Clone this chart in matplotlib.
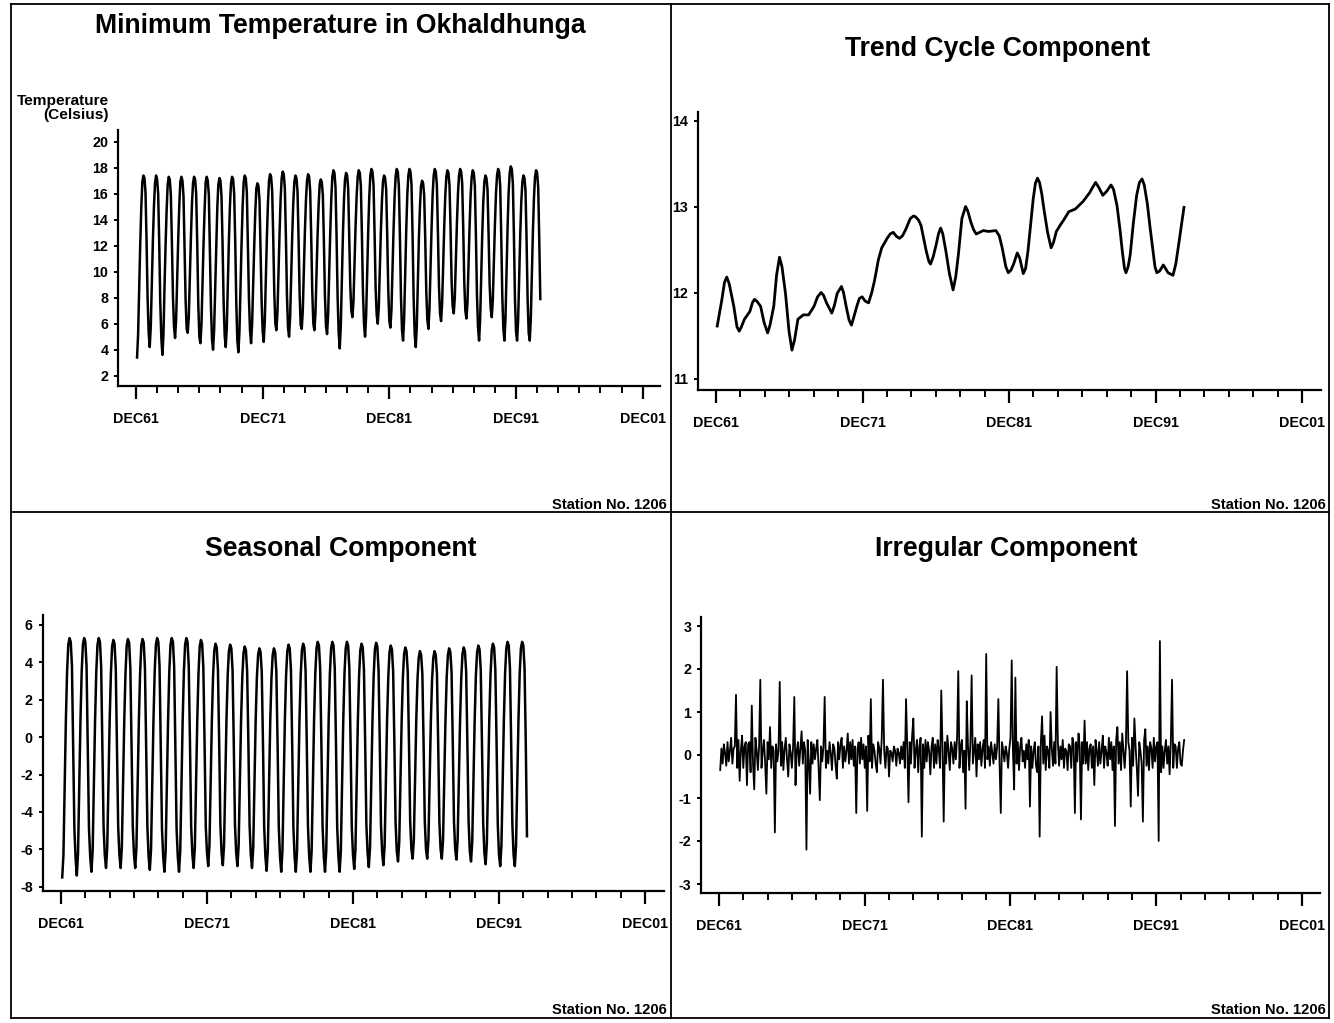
import numpy as np
import matplotlib
matplotlib.use("Agg")
import matplotlib.pyplot as plt
from matplotlib import font_manager
from matplotlib.lines import Line2D

# ---- data ----
start_year = 1962  # first value is Jan 1962, last is Nov 1993

tick_labels = ["DEC61", "DEC71", "DEC81", "DEC91", "DEC01"]

# minimum temperature (Celsius), one row per year, Jan..Dec
temp_rows = [
    [3.4, 5.2, 8.7, 12.1, 14.9, 16.9, 17.4, 17.2, 16.1, 12.4, 7.9, 5.3],
    [4.2, 5.8, 9.1, 12.4, 15.0, 16.8, 17.4, 17.1, 16.0, 12.2, 7.6, 4.9],
    [3.6, 5.1, 8.8, 12.0, 14.7, 16.7, 17.3, 17.1, 15.9, 12.3, 8.1, 5.8],
    [4.9, 6.3, 9.4, 12.5, 15.1, 16.9, 17.3, 17.0, 15.8, 12.0, 7.8, 5.6],
    [5.3, 6.5, 9.6, 12.6, 15.2, 16.8, 17.3, 17.1, 16.0, 12.2, 7.5, 5.0],
    [4.5, 5.9, 9.0, 12.2, 14.8, 16.9, 17.3, 17.0, 15.9, 11.8, 7.3, 4.8],
    [4.0, 5.5, 8.7, 12.1, 14.9, 16.7, 17.2, 17.0, 15.8, 12.1, 7.7, 5.1],
    [4.2, 5.7, 9.2, 12.4, 15.1, 16.8, 17.3, 17.1, 16.0, 12.3, 7.6, 4.7],
    [3.8, 5.4, 8.9, 12.2, 15.0, 16.9, 17.4, 17.2, 16.1, 12.2, 7.9, 5.5],
    [4.5, 6.0, 9.1, 12.0, 14.6, 16.4, 16.8, 16.6, 15.5, 11.7, 7.7, 5.4],
    [4.6, 6.2, 9.5, 12.7, 15.3, 17.0, 17.5, 17.3, 16.2, 12.6, 8.4, 6.0],
    [5.5, 6.9, 10.0, 13.0, 15.6, 17.2, 17.7, 17.5, 16.4, 12.7, 8.2, 5.7],
    [5.0, 6.5, 9.7, 12.8, 15.3, 16.9, 17.4, 17.2, 16.2, 12.5, 8.3, 5.9],
    [5.6, 7.0, 10.1, 13.1, 15.5, 17.0, 17.5, 17.3, 16.2, 12.6, 8.4, 6.0],
    [5.5, 6.8, 9.9, 12.8, 15.1, 16.7, 17.1, 16.9, 15.9, 12.3, 8.1, 5.8],
    [5.2, 6.7, 9.9, 13.0, 15.6, 17.3, 17.8, 17.6, 16.5, 12.7, 8.0, 5.3],
    [4.1, 5.8, 9.4, 12.8, 15.5, 17.1, 17.6, 17.4, 16.4, 12.8, 8.9, 7.0],
    [6.5, 7.7, 10.6, 13.5, 15.8, 17.3, 17.8, 17.6, 16.6, 12.9, 8.4, 6.0],
    [5.0, 6.6, 10.0, 13.2, 15.8, 17.4, 17.9, 17.7, 16.7, 13.0, 8.7, 6.7],
    [6.0, 7.3, 10.3, 13.2, 15.5, 17.0, 17.4, 17.2, 16.3, 12.7, 8.5, 6.2],
    [5.7, 7.1, 10.3, 13.3, 15.8, 17.4, 17.9, 17.7, 16.6, 12.8, 8.1, 5.5],
    [4.7, 6.4, 9.9, 13.2, 15.9, 17.4, 17.9, 17.7, 16.7, 12.8, 8.0, 5.2],
    [4.2, 5.8, 9.3, 12.6, 15.0, 16.6, 17.0, 16.8, 15.9, 12.5, 8.4, 6.3],
    [5.6, 7.1, 10.4, 13.4, 15.9, 17.4, 17.9, 17.7, 16.7, 13.1, 8.9, 6.8],
    [6.2, 7.6, 10.6, 13.5, 15.9, 17.3, 17.8, 17.6, 16.6, 13.2, 9.2, 7.3],
    [6.8, 8.0, 10.9, 13.7, 16.0, 17.4, 17.9, 17.7, 16.8, 13.3, 9.1, 7.0],
    [6.4, 7.6, 10.6, 13.5, 15.9, 17.3, 17.8, 17.6, 16.6, 12.8, 8.2, 5.7],
    [4.7, 6.3, 9.7, 12.9, 15.4, 16.9, 17.4, 17.2, 16.3, 12.9, 9.0, 7.2],
    [6.5, 7.8, 10.8, 13.6, 16.0, 17.4, 17.9, 17.7, 16.6, 12.7, 8.1, 5.6],
    [4.7, 6.4, 10.0, 13.4, 16.1, 17.6, 18.1, 17.9, 16.8, 12.8, 7.9, 5.4],
    [4.7, 6.3, 9.7, 12.9, 15.4, 16.9, 17.4, 17.2, 16.2, 12.4, 7.8, 5.3],
    [4.7, 6.4, 9.9, 13.1, 15.7, 17.3, 17.8, 17.6, 16.5, 12.5, 7.9],
]

# trend-cycle component: (decimal year, value) points
trend_year = [
    1962.00, 1962.30, 1962.50, 1962.65, 1962.82, 1963.13, 1963.35, 1963.50,
    1963.65, 1963.86, 1964.23, 1964.40, 1964.54, 1964.70, 1964.96, 1965.20,
    1965.44, 1965.60, 1965.86, 1966.05, 1966.25, 1966.42, 1966.66, 1966.90,
    1967.10, 1967.28, 1967.51, 1967.88, 1968.24, 1968.61, 1968.85, 1969.09,
    1969.25, 1969.46, 1969.82, 1970.00, 1970.19, 1970.48, 1970.62, 1970.80,
    1971.00, 1971.16, 1971.30, 1971.53, 1971.70, 1971.89, 1972.10, 1972.33,
    1972.55, 1972.74, 1973.00, 1973.23, 1973.60, 1973.80, 1974.01, 1974.25,
    1974.45, 1974.65, 1974.86, 1975.18, 1975.40, 1975.54, 1975.75, 1975.91,
    1976.10, 1976.27, 1976.45, 1976.56, 1976.75, 1976.95, 1977.10, 1977.25,
    1977.40, 1977.61, 1977.85, 1978.10, 1978.28, 1978.46, 1978.70, 1978.95,
    1979.10, 1979.31, 1979.50, 1979.68, 1980.16, 1980.53, 1981.02, 1981.25,
    1981.45, 1981.70, 1981.87, 1982.05, 1982.23, 1982.48, 1982.65, 1982.89,
    1983.05, 1983.21, 1983.40, 1983.57, 1983.72, 1983.86, 1984.00, 1984.15,
    1984.30, 1984.55, 1984.79, 1984.95, 1985.15, 1985.40, 1985.64, 1986.00,
    1986.44, 1986.98, 1987.42, 1987.65, 1987.83, 1988.05, 1988.32, 1988.60,
    1988.88, 1989.05, 1989.29, 1989.50, 1989.65, 1989.80, 1989.90, 1990.05,
    1990.19, 1990.40, 1990.63, 1990.82, 1991.00, 1991.15, 1991.36, 1991.55,
    1991.72, 1991.88, 1992.01, 1992.20, 1992.45, 1992.60, 1992.77, 1993.11,
    1993.30, 1993.50, 1993.70, 1993.86,
]
trend_value = [
    11.61, 11.90, 12.12, 12.18, 12.10, 11.84, 11.60, 11.55,
    11.60, 11.69, 11.78, 11.88, 11.92, 11.90, 11.84, 11.65,
    11.53, 11.62, 11.84, 12.20, 12.41, 12.30, 11.99, 11.55,
    11.33, 11.45, 11.69, 11.74, 11.74, 11.84, 11.95, 12.00,
    11.97, 11.88, 11.76, 11.85, 11.99, 12.07, 12.00, 11.84,
    11.68, 11.62, 11.70, 11.84, 11.93, 11.95, 11.90, 11.88,
    12.00, 12.14, 12.38, 12.52, 12.63, 12.68, 12.70, 12.65,
    12.63, 12.66, 12.73, 12.86, 12.89, 12.88, 12.84, 12.78,
    12.62, 12.48, 12.36, 12.33, 12.42, 12.56, 12.68, 12.75,
    12.68, 12.48, 12.22, 12.03, 12.18, 12.44, 12.86, 13.00,
    12.95, 12.82, 12.73, 12.68, 12.72, 12.71, 12.72, 12.66,
    12.52, 12.30, 12.23, 12.26, 12.33, 12.46, 12.40, 12.22,
    12.28, 12.48, 12.80, 13.09, 13.27, 13.33, 13.28, 13.15,
    12.97, 12.70, 12.52, 12.58, 12.71, 12.78, 12.84, 12.94,
    12.97, 13.06, 13.16, 13.23, 13.28, 13.22, 13.13, 13.18,
    13.25, 13.20, 13.01, 12.72, 12.48, 12.28, 12.23, 12.30,
    12.44, 12.80, 13.13, 13.28, 13.32, 13.25, 13.03, 12.75,
    12.52, 12.30, 12.23, 12.25, 12.32, 12.28, 12.23, 12.20,
    12.33, 12.56, 12.80, 12.99,
]

# seasonal component, one row per year, Jan..Dec
seasonal_rows = [
    [-7.5, -6.3, -2.7, 0.9, 3.5, 4.95, 5.3, 5.1, 3.8, -0.4, -4.9, -6.5],
    [-7.4, -6.2, -2.7, 0.9, 3.5, 4.95, 5.3, 5.1, 3.8, -0.4, -4.9, -6.4],
    [-7.2, -6.1, -2.6, 0.9, 3.5, 4.95, 5.3, 5.1, 3.8, -0.4, -4.8, -6.3],
    [-7.0, -5.9, -2.6, 0.9, 3.4, 4.85, 5.2, 5.0, 3.7, -0.4, -4.8, -6.3],
    [-7.0, -5.9, -2.6, 0.9, 3.4, 4.9, 5.25, 5.05, 3.7, -0.4, -4.8, -6.3],
    [-7.0, -5.9, -2.6, 0.9, 3.4, 4.9, 5.25, 5.05, 3.7, -0.4, -4.8, -6.4],
    [-7.1, -6.0, -2.6, 0.9, 3.5, 4.95, 5.3, 5.1, 3.8, -0.4, -4.9, -6.4],
    [-7.2, -6.1, -2.6, 0.9, 3.5, 4.95, 5.3, 5.1, 3.8, -0.4, -4.9, -6.4],
    [-7.2, -6.1, -2.6, 0.9, 3.5, 4.95, 5.3, 5.1, 3.8, -0.3, -4.8, -6.3],
    [-7.0, -5.9, -2.5, 0.9, 3.4, 4.85, 5.2, 5.0, 3.7, -0.3, -4.8, -6.2],
    [-6.9, -5.8, -2.5, 0.9, 3.3, 4.65, 5.0, 4.8, 3.6, -0.3, -4.7, -6.2],
    [-6.85, -5.8, -2.5, 0.9, 3.3, 4.6, 4.95, 4.75, 3.6, -0.3, -4.7, -6.2],
    [-6.9, -5.8, -2.5, 0.9, 3.2, 4.5, 4.85, 4.65, 3.5, -0.3, -4.7, -6.3],
    [-7.0, -5.9, -2.5, 0.9, 3.2, 4.4, 4.75, 4.55, 3.5, -0.3, -4.8, -6.4],
    [-7.15, -6.0, -2.5, 0.9, 3.2, 4.4, 4.75, 4.55, 3.5, -0.3, -4.8, -6.4],
    [-7.2, -6.1, -2.6, 0.9, 3.3, 4.6, 4.95, 4.75, 3.6, -0.3, -4.8, -6.4],
    [-7.2, -6.1, -2.6, 0.9, 3.3, 4.65, 5.0, 4.8, 3.6, -0.3, -4.8, -6.4],
    [-7.2, -6.1, -2.6, 0.9, 3.4, 4.75, 5.1, 4.9, 3.7, -0.3, -4.8, -6.4],
    [-7.2, -6.1, -2.6, 0.9, 3.4, 4.75, 5.1, 4.9, 3.7, -0.3, -4.8, -6.4],
    [-7.2, -6.1, -2.6, 0.9, 3.4, 4.75, 5.1, 4.9, 3.7, -0.3, -4.8, -6.3],
    [-7.05, -6.0, -2.5, 0.9, 3.3, 4.65, 5.0, 4.8, 3.6, -0.3, -4.7, -6.2],
    [-6.95, -5.9, -2.5, 0.9, 3.3, 4.7, 5.05, 4.85, 3.6, -0.3, -4.7, -6.2],
    [-6.85, -5.8, -2.4, 0.9, 3.2, 4.55, 4.9, 4.7, 3.5, -0.3, -4.6, -6.1],
    [-6.65, -5.6, -2.4, 0.9, 3.2, 4.45, 4.8, 4.6, 3.5, -0.3, -4.5, -6.0],
    [-6.5, -5.5, -2.3, 0.9, 3.1, 4.25, 4.6, 4.4, 3.4, -0.3, -4.5, -6.0],
    [-6.5, -5.5, -2.3, 0.9, 3.1, 4.25, 4.6, 4.4, 3.4, -0.3, -4.5, -6.0],
    [-6.5, -5.5, -2.3, 0.9, 3.2, 4.4, 4.75, 4.55, 3.5, -0.3, -4.5, -6.0],
    [-6.55, -5.5, -2.3, 0.9, 3.2, 4.45, 4.8, 4.6, 3.5, -0.3, -4.5, -6.1],
    [-6.65, -5.6, -2.4, 0.9, 3.3, 4.55, 4.9, 4.7, 3.6, -0.3, -4.6, -6.2],
    [-6.8, -5.7, -2.4, 0.9, 3.3, 4.65, 5.0, 4.8, 3.6, -0.3, -4.7, -6.3],
    [-6.9, -5.8, -2.5, 0.9, 3.4, 4.75, 5.1, 4.9, 3.7, -0.3, -4.7, -6.3],
    [-6.9, -5.8, -2.5, 0.9, 3.4, 4.75, 5.1, 4.9, 3.7, -0.3, -5.3],
]

# irregular component, one row per year, Jan..Dec
irregular_rows = [
    [-0.35, 0.15, -0.2, 0.25, 0.05, -0.25, 0.3, -0.15, 0.1, 0.4, -0.2, 0.15],
    [0.2, 1.4, -0.3, 0.35, -0.6, 0.1, 0.45, -0.3, 0.2, 0.3, -0.7, 0.25],
    [0.3, -0.4, 1.15, -0.2, -0.8, 0.4, 0.1, -0.35, 0.2, 1.75, -0.3, 0.1],
    [0.35, -0.2, -0.9, 0.3, -0.1, 0.65, -0.3, 0.2, 0.1, -1.8, 0.25, -0.15],
    [0.1, 1.7, -0.25, 0.3, -0.35, 0.15, 0.4, -0.1, -0.5, 0.25, 0.05, -0.3],
    [0.2, 1.35, -0.7, 0.1, 0.3, -0.25, 0.15, 0.55, -0.2, 0.3, 0.1, -2.2],
    [0.35, -0.15, -0.9, 0.3, -0.2, 0.25, -0.1, 0.15, 0.35, -0.3, -1.05, 0.2],
    [-0.15, 0.2, 1.35, -0.3, 0.1, -0.2, 0.3, 0.05, -0.35, 0.25, 0.15, -0.25],
    [-0.55, 0.3, -0.1, 0.25, 0.4, -0.3, 0.2, -0.15, 0.1, 0.5, -0.2, 0.3],
    [-0.1, 0.35, -0.25, 0.2, -1.35, 0.15, 0.3, -0.2, 0.4, -0.1, 0.25, -0.3],
    [0.2, -1.3, 0.45, -0.15, 1.3, -0.3, 0.25, 0.1, -0.2, -0.4, 0.3, 0.15],
    [-0.2, 0.4, 1.75, 0.1, -0.3, 0.2, 0.15, -0.5, 0.1, 0.05, -0.15, 0.2],
    [0.1, -0.25, 0.15, 0.05, -0.2, 0.2, -0.1, 0.3, -0.3, 1.3, 0.2, -1.1],
    [0.3, -0.2, 0.45, 0.85, -0.3, 0.1, 0.35, -0.4, 0.2, 0.4, -1.9, 0.25],
    [-0.3, 0.35, -0.15, 0.3, 0.1, -0.45, 0.2, 0.4, -0.3, 0.25, -0.2, 0.35],
    [0.1, -0.3, 1.5, 0.2, -1.55, 0.3, -0.2, 0.45, 0.1, -0.35, 0.3, 0.15],
    [-0.2, 0.3, -0.1, 0.4, 1.95, -0.3, 0.2, 0.35, -0.4, 0.1, -1.25, 1.25],
    [0.2, -0.35, 0.3, 1.85, -0.2, 0.1, 0.4, -0.5, 0.25, -0.1, 0.3, -0.25],
    [0.15, 0.35, -0.3, 2.35, -0.1, 0.2, -0.25, 0.3, 0.05, -0.2, 0.25, -0.1],
    [0.2, 1.3, -0.2, -1.35, 0.3, 0.1, -0.15, 0.2, 0.05, -0.3, 0.15, 0.4],
    [2.2, 0.1, -0.8, 1.8, -0.2, 0.3, -0.35, 0.2, 0.4, -0.15, 0.1, -0.3],
    [0.25, -0.1, 0.35, -1.2, 0.2, -0.3, 0.1, 0.3, -0.25, -0.4, 0.2, -1.9],
    [0.3, 0.9, -0.2, 0.45, -0.35, 0.2, 0.1, -0.3, 1.0, 0.15, -0.25, 0.3],
    [-0.2, 2.05, 0.3, -0.25, 0.2, -0.1, 0.35, -0.3, 0.15, 0.1, -0.35, 0.25],
    [0.2, -0.3, 0.4, 0.25, -1.35, 0.3, -0.15, 0.5, 0.2, -1.5, 0.3, -0.2],
    [0.8, -0.2, 0.3, -0.35, 0.15, 0.25, -0.3, 0.2, -0.7, 0.35, 0.1, -0.25],
    [0.3, -0.2, 0.1, 0.45, -0.3, 0.2, 0.05, -0.25, 0.4, -0.1, 0.3, -0.35],
    [0.2, -1.65, 0.35, 0.65, -0.2, 0.3, -0.35, 0.5, 0.1, -0.3, 0.2, 1.95],
    [0.3, 0.1, -1.2, 0.4, -0.25, 0.85, 0.2, -0.3, -0.95, 0.3, 0.1, -0.2],
    [-1.55, 0.35, 0.6, -0.25, 0.2, -0.35, 0.3, 0.15, -0.3, 0.4, -0.15, 0.2],
    [0.3, -2.0, 2.65, -0.4, 0.2, -0.3, 0.1, 0.35, -0.2, 0.2, -0.45, 0.3],
    [1.75, -0.3, 0.25, 0.2, -0.3, 0.15, 0.3, -0.2, -0.25, 0.1, 0.35],
]

temp = np.concatenate([np.array(r, float) for r in temp_rows])
seasonal = np.concatenate([np.array(r, float) for r in seasonal_rows])
irregular = np.concatenate([np.array(r, float) for r in irregular_rows])
months = start_year + np.arange(len(temp)) / 12.0

# ---- fonts: narrow bold face if there is one ----
names = {f.name for f in font_manager.fontManager.ttflist}
if "Liberation Sans Narrow" in names:
    FAM, K = "Liberation Sans Narrow", 1.0
else:
    FAM, K = "Liberation Sans", 0.82

W, H = 1334, 1023
fig = plt.figure(figsize=(W / 100, H / 100), dpi=100)
fig.patch.set_facecolor("white")

DEC61 = 1961 + 11 / 12.0
major = [DEC61 + 10 * k for k in range(5)]
minor = [DEC61 + k * 10 / 6.0 for k in range(25) if k % 6]


def fline(x0, y0, x1, y1, lw=1.3):
    fig.add_artist(Line2D([x0 / W, x1 / W], [1 - y0 / H, 1 - y1 / H],
                          transform=fig.transFigure, color="black", lw=lw))


def panel(left, right, top, bottom, d61, d01, ya, ya_px, yb, yb_px, yticks):
    ax = fig.add_axes([left / W, 1 - bottom / H, (right - left) / W, (bottom - top) / H])
    ppy = (d01 - d61) / 40.0
    ax.set_xlim(DEC61 - (d61 - left) / ppy, DEC61 + (right - d61) / ppy)
    ppu = (yb_px - ya_px) / (ya - yb)
    ax.set_ylim(yb - (bottom - yb_px) / ppu, ya + (ya_px - top) / ppu)
    ax.set_xticks(major)
    ax.set_xticklabels(tick_labels)
    ax.set_xticks(minor, minor=True)
    ax.set_yticks(yticks)
    ax.set_yticklabels([str(v) for v in yticks])
    for s in ("top", "right"):
        ax.spines[s].set_visible(False)
    for s in ("left", "bottom"):
        ax.spines[s].set_linewidth(1.6)
    ax.tick_params(axis="x", which="major", direction="out", length=9, width=1.6, pad=10)
    ax.tick_params(axis="x", which="minor", direction="out", length=5, width=1.4)
    ax.tick_params(axis="y", direction="out", length=3, width=1.4, pad=4)
    for lab in ax.get_xticklabels() + ax.get_yticklabels():
        lab.set_fontfamily(FAM)
        lab.set_fontweight("bold")
        lab.set_fontsize(12.5 * K)
    ax.patch.set_alpha(0)
    return ax


# panel 1: original series
ax1 = panel(118, 660, 130, 386, 136, 642.7, 20, 141.7, 2, 375.7, list(range(2, 21, 2)))
ax1.plot(months, temp, color="black", lw=1.8, solid_joinstyle="round")

# panel 2: trend-cycle
ax2 = panel(698, 1321, 112, 390, 716, 1302, 14, 120.5, 11, 378.5, [11, 12, 13, 14])
ax2.plot(trend_year, trend_value, color="black", lw=2.0, solid_joinstyle="round")

# panel 3: seasonal
ax3 = panel(42.5, 664, 615, 891, 61, 645, 6, 625, -8, 886.7, list(range(-8, 7, 2)))
ax3.plot(months, seasonal, color="black", lw=1.8, solid_joinstyle="round")

# panel 4: irregular
ax4 = panel(701, 1320, 617, 893, 719, 1302, 3, 626, -3, 884, list(range(-3, 4)))
ax4.plot(months, irregular, color="black", lw=1.3, solid_joinstyle="round")

# titles
title_kw = dict(ha="center", va="baseline", fontfamily=FAM, fontweight="bold",
                fontsize=23.4 * K)
fig.text(340 / W, 1 - 33 / H, "Minimum Temperature in Okhaldhunga", **title_kw)
fig.text(998 / W, 1 - 56 / H, "Trend Cycle Component", **title_kw)
fig.text(341 / W, 1 - 556 / H, "Seasonal Component", **title_kw)
fig.text(1006 / W, 1 - 556 / H, "Irregular Component", **title_kw)

# y-axis label of the first panel
small_kw = dict(fontfamily=FAM, fontweight="bold", fontsize=13.5 * K, va="baseline", ha="right")
fig.text(109 / W, 1 - 105 / H, "Temperature", **small_kw)
fig.text(109 / W, 1 - 119 / H, "(Celsius)", **small_kw)

# station footers
st_kw = dict(fontfamily=FAM, fontweight="bold", fontsize=13 * K, va="baseline", ha="right")
for x, y in [(667, 509), (1326, 509), (667, 1014), (1326, 1014)]:
    fig.text(x / W, 1 - y / H, "Station No. 1206", **st_kw)

# page frame and dividers
fline(11, 4, 1329, 4)
fline(11, 4, 11, 1018)
fline(1329, 4, 1329, 1018)
fline(671, 4, 671, 1018)
fline(11, 512, 1329, 512)
fline(11, 1018, 1329, 1018)

fig.savefig("out.png", dpi=100, facecolor="white")
